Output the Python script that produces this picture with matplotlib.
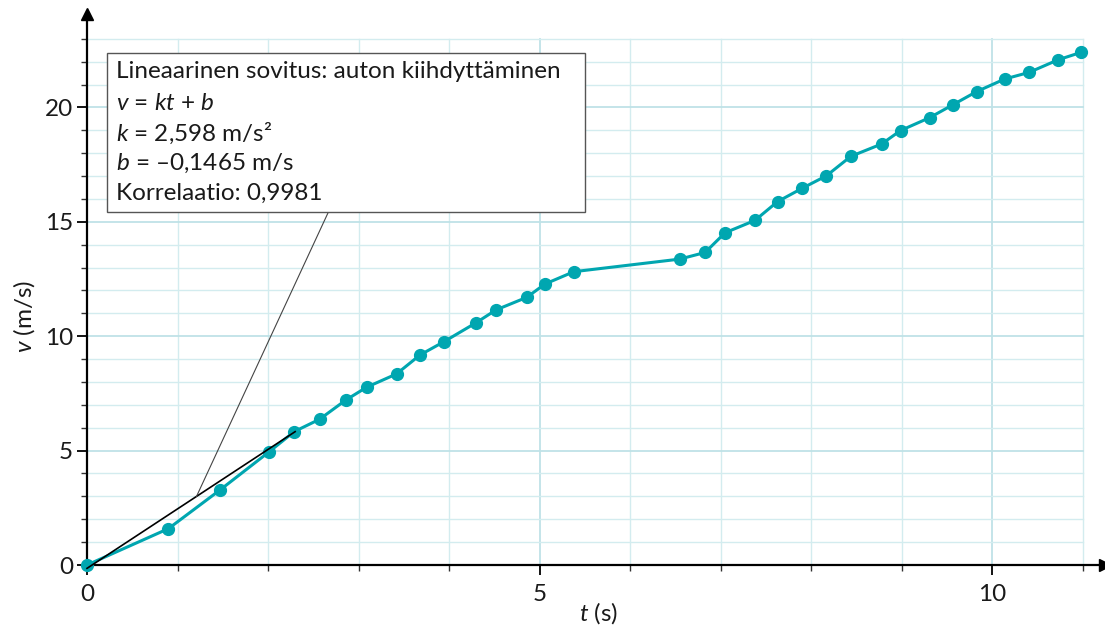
import matplotlib
matplotlib.use("Agg")
import matplotlib.pyplot as plt
import numpy as np

plt.rcParams["font.family"] = ["Lato", "DejaVu Sans"]
plt.rcParams["mathtext.fontset"] = "custom"
plt.rcParams["mathtext.rm"] = "Lato"
plt.rcParams["mathtext.it"] = "Lato:italic"

# ── Data ─────────────────────────────────────────────
t = [0.0, 0.90, 1.47, 2.01, 2.29, 2.57, 2.86, 3.09, 3.42, 3.68, 3.94, 4.30,
     4.52, 4.86, 5.06, 5.38, 6.55, 6.83, 7.05, 7.38, 7.63, 7.90, 8.17, 8.44,
     8.78, 8.99, 9.31, 9.57, 9.83, 10.14, 10.41, 10.73, 10.98]
v = [0.0, 1.59, 3.28, 4.94, 5.83, 6.37, 7.21, 7.77, 8.35, 9.18, 9.75, 10.59,
     11.15, 11.70, 12.28, 12.82, 13.37, 13.66, 14.52, 15.06, 15.88, 16.46,
     17.01, 17.86, 18.40, 18.99, 19.55, 20.12, 20.69, 21.24, 21.53, 22.08,
     22.40]

k_fit = 2.598
b_fit = -0.1465
fit_t = [0.0, 2.30]

box_lines = ["Lineaarinen sovitus: auton kiihdyttäminen",
             "$v$ = $kt$ + $b$",
             "$k$ = 2,598 m/s²",
             "$b$ = –0,1465 m/s",
             "Korrelaatio: 0,9981"]

C_LINE = "#00a6b0"
C_GRID = "#d3ecef"
C_GRID_MAJ = "#bfe2e7"
C_TXT = "#1a1a1a"
FS = 17.5

W, H = 1105, 632
fig = plt.figure(figsize=(W / 100, H / 100), dpi=100)
x0, y0 = 87, 565          # pixel position of origin
sx, sy = 90.5, 22.88       # pixels per unit
xmax, ymax = 11.25, 24.1
ax = fig.add_axes([x0 / W, (H - y0) / H, xmax * sx / W, ymax * sy / H])
ax.set_xlim(0, xmax)
ax.set_ylim(0, ymax)

# grid (stops at t=11, v=23)
for gx in range(1, 12):
    ax.plot([gx, gx], [0, 23], color=C_GRID_MAJ if gx % 5 == 0 else C_GRID,
            lw=1.3 if gx % 5 == 0 else 1.0, zorder=0)
for gy in range(1, 24):
    ax.plot([0, 11], [gy, gy], color=C_GRID_MAJ if gy % 5 == 0 else C_GRID,
            lw=1.3 if gy % 5 == 0 else 1.0, zorder=0)

# spines as arrows
for s in ["top", "right"]:
    ax.spines[s].set_visible(False)
for s in ["left", "bottom"]:
    ax.spines[s].set_linewidth(1.6)
    ax.spines[s].set_color("black")
ax.plot(1, 0, ">", color="black", ms=9, transform=ax.transAxes, clip_on=False)
ax.plot(0, 1, "^", color="black", ms=9, transform=ax.transAxes, clip_on=False)

ax.set_xticks([0, 5, 10])
ax.set_xticks(range(0, 12), minor=True)
ax.set_yticks([0, 5, 10, 15, 20])
ax.set_yticks(range(0, 24), minor=True)
ax.tick_params(which="major", length=7, width=1.3, labelsize=FS,
               colors="black", labelcolor=C_TXT)
ax.tick_params(which="minor", length=4, width=1.0, colors="#333")
ax.tick_params(axis="x", which="major", pad=7)
ax.tick_params(axis="y", which="major", pad=3)

# data
ax.plot(t, v, "-o", color=C_LINE, lw=2.2, ms=8.5, clip_on=False, zorder=4)

# fitted line
fit_v = [k_fit * tt + b_fit for tt in fit_t]
ax.plot(fit_t, fit_v, color="black", lw=1.2, zorder=5, clip_on=False)

# info box
bx0, bx1, by0, by1 = 0.22, 5.5, 15.45, 22.36
ax.fill([bx0, bx1, bx1, bx0], [by0, by0, by1, by1], facecolor="white",
        edgecolor="#555", lw=1.0, zorder=6)
ax.plot([1.21, 2.67], [k_fit * 1.21 + b_fit, by0], color="#444", lw=0.8,
        zorder=5)
line_y = [21.55, 20.19, 18.88, 17.57, 16.26]
for txt, ly in zip(box_lines, line_y):
    ax.text(0.32, ly, txt, fontsize=FS, color=C_TXT, ha="left", va="center",
            zorder=7)

fig.text(599 / W, 1 - 613 / H, "$t$ (s)", fontsize=FS, color=C_TXT,
         ha="center", va="center")
fig.text(24 / W, 1 - 316 / H, "$v$ (m/s)", fontsize=FS, color=C_TXT,
         ha="center", va="center", rotation=90)

fig.savefig("out.png", dpi=100, facecolor="white")
